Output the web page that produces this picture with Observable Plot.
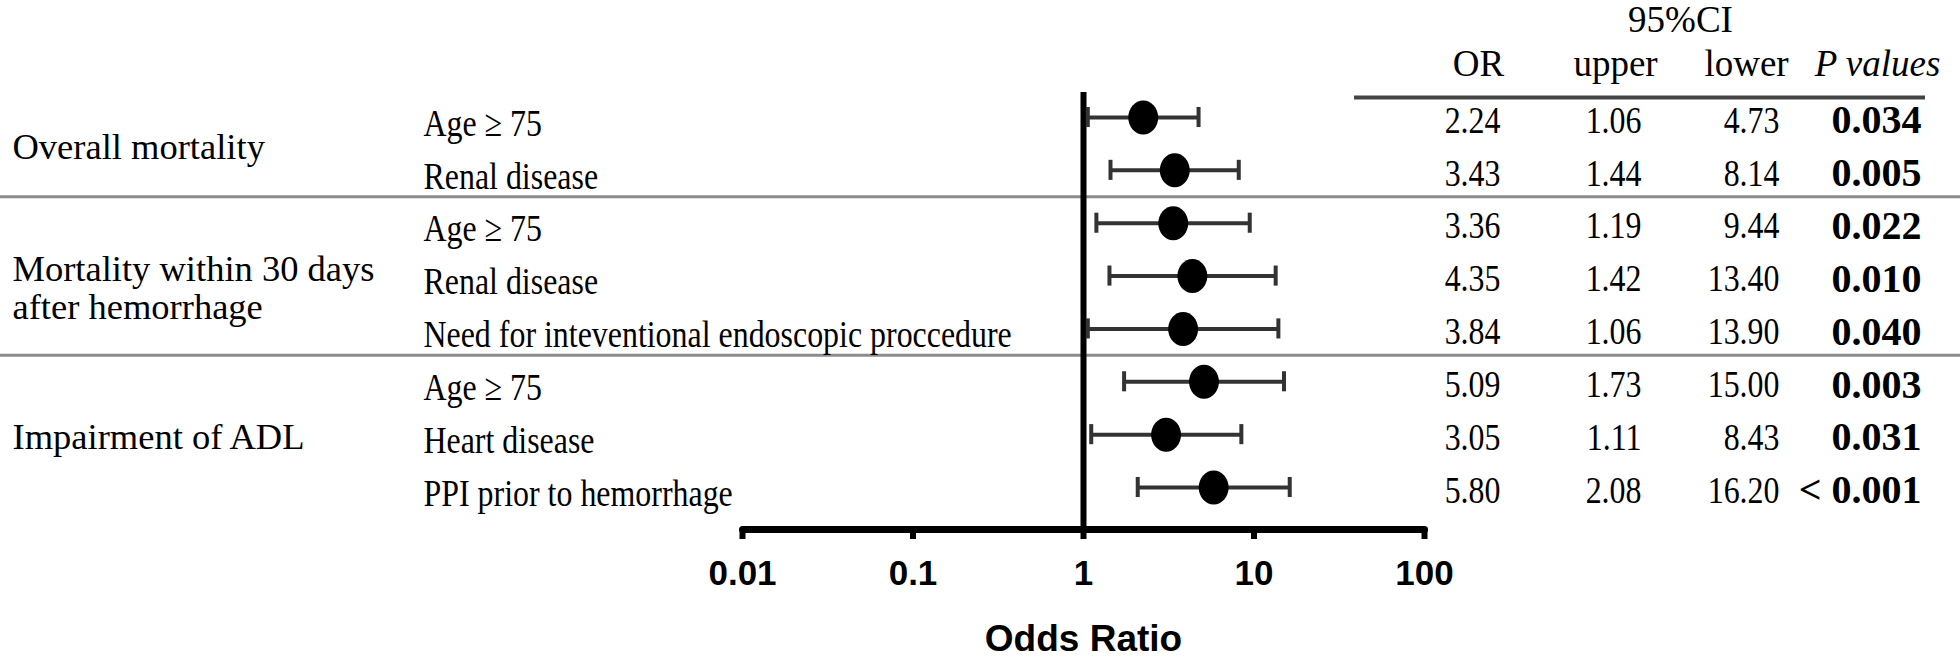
<!DOCTYPE html>
<html>
<head>
<meta charset="utf-8">
<script src="https://cdn.jsdelivr.net/npm/d3@7"></script>
<script src="https://cdn.jsdelivr.net/npm/@observablehq/plot@0.6"></script>
<style>
  html, body { margin: 0; padding: 0; background: #fff; }
  #chart svg { display: block; }
</style>
</head>
<body>
<div id="chart"></div>
<script>
// ---- data ----
const groupNames = ["Overall mortality", "Mortality within 30 days\nafter hemorrhage", "Impairment of ADL"];
const factors = ["Age \u2265 75", "Renal disease", "Age \u2265 75", "Renal disease",
  "Need for inteventional endoscopic proccedure", "Age \u2265 75", "Heart disease", "PPI prior to hemorrhage"];
const factorGroup = [0, 0, 1, 1, 1, 2, 2, 2];
const oddsRatio = [2.24, 3.43, 3.36, 4.35, 3.84, 5.09, 3.05, 5.80];
const ciUpperCol = [1.06, 1.44, 1.19, 1.42, 1.06, 1.73, 1.11, 2.08];   // column headed "upper"
const ciLowerCol = [4.73, 8.14, 9.44, 13.40, 13.90, 15.00, 8.43, 16.20]; // column headed "lower"
const pValues = ["0.034", "0.005", "0.022", "0.010", "0.040", "0.003", "0.031", "< 0.001"];
const headerLabels = ["OR", "upper", "lower", "P values"];
const ciHeader = "95%CI";
const xTicks = [0.01, 0.1, 1, 10, 100];
const xLabel = "Odds Ratio";

// ---- tables built from the arrays ----
const rows = factors.map((label, i) => ({
  i, label, group: factorGroup[i],
  or: oddsRatio[i], lo: ciUpperCol[i], hi: ciLowerCol[i], p: pValues[i]
}));
const groups = groupNames.map((name, g) => {
  const idx = rows.filter(r => r.group === g).map(r => r.i);
  return {name, first: d3.min(idx), last: d3.max(idx), multi: name.includes("\n")};
});
const separators = groups.slice(0, -1).map(g => g.last + 0.5);

// ---- layout ----
const W = 1960, H = 658;
const mL = 742, mR = 536, mT = 92, mB = 129;
const serif = "'Liberation Serif', 'Times New Roman', serif";
const sans = "'Liberation Sans', Arial, sans-serif";
const condensedSize = 38;   // narrow serif text (factor labels, numbers)
const condensedScale = 0.84;
const headSize = 37;
const capHalf = 0.19;       // half-height of CI caps in row units

// ellipse symbol (the reference dots are slightly taller than wide)
const ellipse = {
  draw(ctx, size) {
    const ry = Math.sqrt(size / Math.PI), rx = ry * 0.88, k = 0.5523;
    ctx.moveTo(rx, 0);
    ctx.bezierCurveTo(rx, ry * k, rx * k, ry, 0, ry);
    ctx.bezierCurveTo(-rx * k, ry, -rx, ry * k, -rx, 0);
    ctx.bezierCurveTo(-rx, -ry * k, -rx * k, -ry, 0, -ry);
    ctx.bezierCurveTo(rx * k, -ry, rx, -ry * k, rx, 0);
    ctx.closePath();
  }
};

// table columns: right edge (px) of values, centre of header
const cols = [
  {values: oddsRatio.map(v => v.toFixed(2)), right: 1500, head: 1478, size: condensedSize, weight: "normal"},
  {values: ciUpperCol.map(v => v.toFixed(2)), right: 1641, head: 1615, size: condensedSize, weight: "normal"},
  {values: ciLowerCol.map(v => v.toFixed(2)), right: 1779, head: 1746, size: condensedSize, weight: "normal"},
  {values: pValues, right: 1921, head: 1877, size: 40, weight: "bold"}
];

const colMarks = cols.flatMap((c, k) => [
  Plot.text(rows, {
    y: "i", dy: 3, text: (d, i) => c.values[i], frameAnchor: "left", dx: c.right - mL,
    textAnchor: "end", fontSize: c.size, fontFamily: serif, fontWeight: c.weight, fill: "black"
  }),
  Plot.text([headerLabels[k]], {
    y: () => -1, text: d => d, frameAnchor: "left", dx: c.head - mL,
    textAnchor: "middle", fontSize: headSize, fontFamily: serif,
    fontStyle: k === 3 ? "italic" : "normal", fill: "black"
  })
]);

const groupText = (data, dy, lineHeight) => Plot.text(data, {
  y: d => (d.first + d.last) / 2, dy, text: "name", frameAnchor: "left", dx: 12 - mL,
  textAnchor: "start", fontSize: 36.5, lineHeight, fontFamily: serif, fill: "black"
});

const chart = Plot.plot({
  width: W, height: H,
  marginLeft: mL, marginRight: mR, marginTop: mT, marginBottom: mB,
  style: {background: "white", overflow: "visible", color: "black"},
  x: {type: "log", domain: [0.01, 100]},
  y: {domain: [0, 7], range: [117, 487], axis: null},
  marks: [
    // group separators, full width
    Plot.ruleY(separators, {y: d => d, insetLeft: -mL, insetRight: -mR, stroke: "#8c8c8c", strokeWidth: 3}),
    // header rule
    Plot.ruleY([-0.38], {y: d => d, insetLeft: 1354 - mL, insetRight: (W - mR) - 1925, stroke: "#444", strokeWidth: 4}),
    // x axis line and ticks
    Plot.frame({anchor: "bottom", strokeWidth: 7, strokeLinecap: "round"}),
    Plot.axisX({
      ticks: xTicks, tickFormat: d => String(d), tickSize: 10, tickPadding: 21,
      strokeWidth: 6, fontSize: 35, fontWeight: "bold", fontFamily: sans, label: null
    }),
    Plot.text([xLabel], {frameAnchor: "bottom", lineAnchor: "middle", dy: 110, text: d => d,
      fontSize: 37, fontWeight: "bold", fontFamily: sans, fill: "black"}),
    // null line at OR = 1
    Plot.ruleX([1], {strokeWidth: 6, stroke: "black"}),
    // confidence intervals
    Plot.ruleY(rows, {y: "i", x1: "lo", x2: "hi", stroke: "#333", strokeWidth: 4}),
    Plot.ruleX(rows, {x: "lo", y1: d => d.i - capHalf, y2: d => d.i + capHalf, stroke: "#333", strokeWidth: 4}),
    Plot.ruleX(rows, {x: "hi", y1: d => d.i - capHalf, y2: d => d.i + capHalf, stroke: "#333", strokeWidth: 4}),
    Plot.dot(rows, {x: "or", y: "i", r: 17, fill: "black", stroke: "none", symbol: ellipse}),
    // factor labels
    Plot.text(rows, {y: "i", dy: 6, text: "label", frameAnchor: "left", dx: 423 - mL, textAnchor: "start",
      fontSize: condensedSize, fontFamily: serif, fill: "black"}),
    // group labels
    groupText(groups.filter(g => !g.multi), 3, 1),
    groupText(groups.filter(g => g.multi), 12, 1.02),
    // table
    ...colMarks,
    Plot.text([ciHeader], {y: () => -1.85, text: d => d, frameAnchor: "left", dx: 1680 - mL, textAnchor: "middle",
      fontSize: headSize, fontFamily: serif, fill: "black"})
  ]
});

// narrow the condensed serif texts horizontally (the reference's text is horizontally squeezed)
chart.querySelectorAll("g").forEach(g => {
  if (parseFloat(g.getAttribute("font-size")) !== condensedSize) return;
  g.querySelectorAll("text").forEach(t => {
    const tr = t.getAttribute("transform");
    if (tr) {
      t.setAttribute("transform", tr + ` scale(${condensedScale},1)`);
    } else {
      const x = +t.getAttribute("x") || 0, y = +t.getAttribute("y") || 0;
      t.removeAttribute("x"); t.removeAttribute("y");
      t.setAttribute("transform", `translate(${x},${y}) scale(${condensedScale},1)`);
    }
  });
});
document.getElementById("chart").appendChild(chart);
</script>
</body>
</html>
